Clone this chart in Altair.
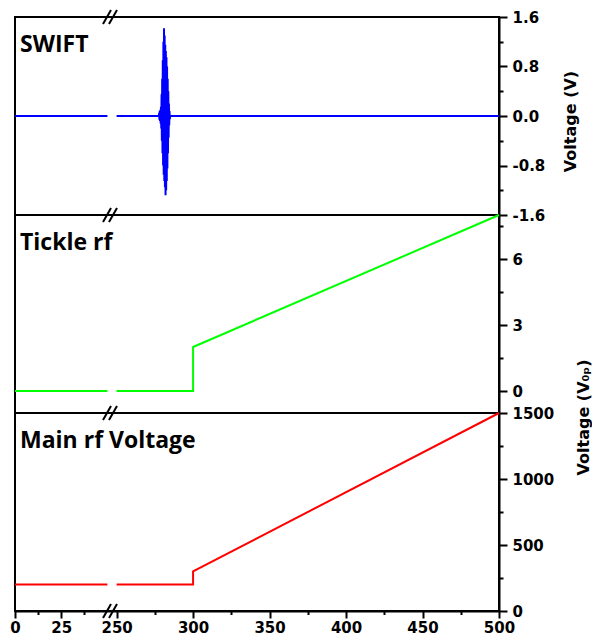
import altair as alt
import pandas as pd

# ---------------- data ----------------
# broken x axis: 0-50 | 250-500
x_break_domain = [0, 50, 250, 500]
x_tick_values = [0, 12.5, 25, 37.5, 250, 275, 300, 325, 350, 375, 400, 425, 450, 475, 500]
x_major = [0, 25, 250, 300, 350, 400, 450, 500]
x_minor = [12.5, 37.5, 275, 325, 375, 425, 475]

# SWIFT waveform
swift_base_x = [0, 50, 250, 277.6]
swift_base_y = [0, 0, 0, 0]
burst_x = [277.8, 278.0, 278.2, 278.4, 278.6, 278.8, 279.0, 279.2, 279.4, 279.6,
           279.8, 280.0, 280.2, 280.4, 280.6, 280.8, 281.0, 281.2, 281.4, 281.6,
           281.8, 282.0, 282.2, 282.4, 282.6, 282.8, 283.0, 283.2, 283.4, 283.6,
           283.8, 284.0, 284.2, 284.4, 284.6, 284.8]
burst_y = [0.05, -0.06, 0.08, -0.08, 0.1, -0.12, 0.15, -0.2, 0.35, -0.4,
           0.6, -0.6, 0.9, -0.8, 1.2, -0.95, 1.42, -1.05, 1.3, -1.15,
           1.15, -1.28, 1.05, -1.2, 0.95, -1.05, 0.8, -0.85, 0.6, -0.6,
           0.4, -0.35, 0.2, -0.15, 0.08, -0.05]
swift_tail_x = [285.0, 500]
swift_tail_y = [0, 0]

# Tickle rf
tickle_x = [0, 50, 250, 300, 300, 500]
tickle_y = [0, 0, 0, 0, 2, 8]
tickle_seg = ["a", "a", "b", "b", "b", "b"]

# Main rf voltage
main_x = [0, 50, 250, 300, 300, 500]
main_y = [200, 200, 200, 200, 300, 1500]
main_seg = ["a", "a", "b", "b", "b", "b"]

swift_x = swift_base_x + burst_x + swift_tail_x
swift_y = swift_base_y + burst_y + swift_tail_y
swift_seg = ["a", "a"] + ["b"] * (len(swift_x) - 2)

swift_df = pd.DataFrame({"x": swift_x, "y": swift_y, "seg": swift_seg, "i": range(len(swift_x))})
tickle_df = pd.DataFrame({"x": tickle_x, "y": tickle_y, "seg": tickle_seg, "i": range(len(tickle_x))})
main_df = pd.DataFrame({"x": main_x, "y": main_y, "seg": main_seg, "i": range(len(main_x))})

W = 484
H1, H2, H3 = 198, 198, 198
x_range = [0, 92.4, 101.6, 484]

LABEL_FONT = "DejaVu Sans"


def tick_cond(minor, major_size):
    return {"condition": {"test": f"indexof({minor}, datum.value) >= 0", "value": major_size / 2},
            "value": major_size}


def label_expr(major):
    return f"indexof({major}, datum.value) >= 0 ? replace(datum.label, '\u2212', '-') : ''"


def xenc(show_axis):
    if show_axis:
        ax = alt.Axis(values=x_tick_values, labelExpr=label_expr(x_major),
                      tickSize=tick_cond(x_minor, 7), labelPadding=2, title=None, format="d")
    else:
        ax = None
    return alt.X("x:Q", scale=alt.Scale(domain=x_break_domain, range=x_range, nice=False, zero=False),
                 axis=ax)


def breaks(ypos):
    layers = []
    for yb in ypos:
        for x0 in (88, 94):
            layers.append(
                alt.Chart(pd.DataFrame({"b": [0]})).mark_rule(color="black", strokeWidth=2).encode(
                    x=alt.value(x0), x2=alt.value(x0 + 8), y=alt.value(yb + 7), y2=alt.value(yb - 7)
                )
            )
    return layers


def label_layer(text):
    return alt.Chart(pd.DataFrame({"t": [text]})).mark_text(
        align="left", baseline="alphabetic", font="Open Sans", fontWeight="bold",
        fontSize=23, color="black"
    ).encode(x=alt.value(5), y=alt.value(35), text="t:N")


def panel(df, color, ydom, yvals, ymajor, yminor, fmt, h, label, title, titleX, titleY, show_x, brk):
    kw = {}
    if title:
        kw = dict(title=title, titleAngle=270, titleX=titleX, titleY=titleY,
                  titleAlign="center", titleBaseline="middle")
    else:
        kw = dict(title=None)
    yaxis = alt.Axis(orient="right", values=yvals, format=fmt, labelExpr=label_expr(ymajor),
                     tickSize=tick_cond(yminor, 8), labelPadding=5, **kw)
    line = alt.Chart(df).mark_line(color=color, strokeWidth=2).encode(
        x=xenc(show_x),
        y=alt.Y("y:Q", scale=alt.Scale(domain=ydom, nice=False, zero=False), axis=yaxis),
        detail="seg:N",
        order="i:Q",
    )
    return alt.layer(line, label_layer(label), *breaks(brk)).properties(width=W, height=h)


p1 = panel(swift_df, "#0000FF", [-1.6, 1.6],
           [-1.6, -1.2, -0.8, -0.4, 0, 0.4, 0.8, 1.2, 1.6],
           [-1.6, -0.8, 0, 0.8, 1.6], [-1.2, -0.4, 0.4, 1.2], ".1f",
           H1, "SWIFT", "Voltage (V)", 71, 104, False, [0, H1])
p2 = panel(tickle_df, "#00FF00", [-1, 8],
           [0, 1.5, 3, 4.5, 6, 7.5], [0, 3, 6], [1.5, 4.5, 7.5], "d",
           H2, "Tickle rf", None, 0, 0, False, [H2])
p3 = panel(main_df, "#FF0000", [0, 1500],
           [0, 250, 500, 750, 1000, 1250, 1500], [0, 500, 1000, 1500], [250, 750, 1250], "d",
           H3, "Main rf Voltage", "Voltage (V\u2080\u209a)", 84, 4, True, [H3])

chart = alt.vconcat(p1, p2, p3, spacing=0, bounds="flush").properties(
    padding={"left": 0, "top": 0, "right": 0, "bottom": 0}
).configure_view(
    stroke="black", strokeWidth=2
).configure_axis(
    labelFont=LABEL_FONT, labelFontWeight="bold", labelFontSize=15, labelColor="black",
    domainColor="black", domainWidth=2, tickColor="black", tickWidth=2,
    titleFont=LABEL_FONT, titleFontSize=16, titleFontWeight="bold", titleColor="black",
    grid=False, labelOverlap=False, labelFlush=False
)

chart.save("out.html", embed_options={"renderer": "svg", "actions": False})
